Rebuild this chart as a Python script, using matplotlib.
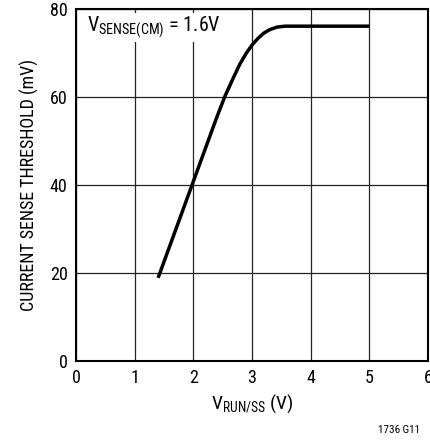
import matplotlib
matplotlib.use("Agg")
import matplotlib.pyplot as plt
from matplotlib import font_manager

# pick a condensed / narrow sans font if installed
cands = []
for f in font_manager.fontManager.ttflist:
    fn = f.fname.lower()
    if ('narrow' in fn or 'condensed' in fn) and f.style == 'normal' and f.weight in (400, 'normal', 'regular'):
        cands.append(f)
pref = ['Liberation Sans Narrow', 'Roboto Condensed', 'Open Sans Condensed', 'DejaVu Sans']
chosen = None
for p in pref:
    for f in cands:
        if f.name == p:
            chosen = f
            break
    if chosen:
        break
if chosen is None and cands:
    chosen = cands[0]

if chosen is not None:
    font_manager.fontManager.addfont(chosen.fname)
    plt.rcParams['font.family'] = [chosen.name, 'DejaVu Sans']
    plt.rcParams['font.stretch'] = chosen.stretch
    base = f"{chosen.name}:stretch={chosen.stretch}"
else:
    plt.rcParams['font.family'] = ['Liberation Sans', 'DejaVu Sans']
    base = "Liberation Sans"
plt.rcParams['mathtext.fontset'] = 'custom'
plt.rcParams['mathtext.rm'] = base
plt.rcParams['mathtext.it'] = base

# data
v_run = [1.40, 2.00, 2.40, 2.54, 2.67, 2.79, 2.90, 3.00, 3.10, 3.20, 3.30, 3.43, 3.57, 5.00]
threshold = [18.9, 40.8, 55.4, 60.2, 64.0, 67.4, 69.9, 71.8, 73.3, 74.5, 75.3, 75.9, 76.1, 76.1]
x_ticks = [0, 1, 2, 3, 4, 5, 6]
y_ticks = [0, 20, 40, 60, 80]

fig = plt.figure(figsize=(4.31, 4.46), dpi=100)
ax = fig.add_axes([0.1763, 0.1906, 0.993 - 0.1763, 0.9798 - 0.1906])
ax.set_xlim(0, 6)
ax.set_ylim(0, 80)
ax.set_xticks(x_ticks)
ax.set_yticks(y_ticks)
ax.tick_params(length=0, labelsize=13, pad=6)
ax.grid(True, color='#222222', linewidth=0.9)
ax.set_axisbelow(True)
for s in ax.spines.values():
    s.set_linewidth(1.5)
    s.set_color('black')

ax.plot(v_run, threshold, color='black', linewidth=2.5, solid_joinstyle='round',
        solid_capstyle='butt', zorder=3)

ax.set_xlabel(r"V$_{\rm RUN/SS}$ (V)", fontsize=14, labelpad=4)
ax.set_ylabel("CURRENT SENSE THRESHOLD (mV)", fontsize=13, labelpad=8)

ax.text(0.19, 75.8, r"V$_{\rm SENSE(CM)}$ = 1.6V", fontsize=14.5, va='center', ha='left',
        bbox=dict(facecolor='white', edgecolor='none', pad=1.5), zorder=4)

fig.text(0.975, 0.035, "1736 G11", fontsize=8, ha='right', va='center')

fig.savefig("out.png", dpi=100)
